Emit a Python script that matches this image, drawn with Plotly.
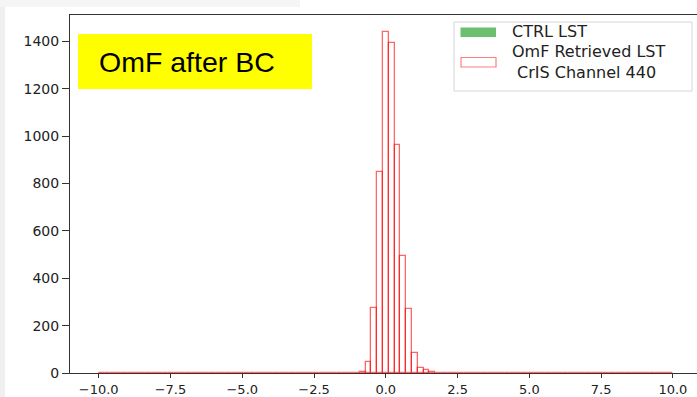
import numpy as np
import plotly.graph_objects as go

# ---- data ----
bin_edges = np.linspace(-10, 10, 100)           # 99 histogram bins
omf_first_bin = 45                              # index of first non-empty bin
omf_counts_nonzero = [5, 48, 273, 848, 1440, 1393, 965, 494, 270, 86, 22, 14, 4]
ctrl_counts = [0] * 99                          # CTRL LST: nothing visible
x_tick_vals = [-10.0, -7.5, -5.0, -2.5, 0.0, 2.5, 5.0, 7.5, 10.0]
x_tick_text = ["\u221210.0", "\u22127.5", "\u22125.0", "\u22122.5", "0.0", "2.5", "5.0", "7.5", "10.0"]
y_tick_vals = [0, 200, 400, 600, 800, 1000, 1200, 1400]
legend_labels = ["CTRL LST", "OmF Retrieved LST<br> CrIS Channel 440"]
title_text = "OmF after BC"

# ---- build series ----
centers = 0.5 * (bin_edges[:-1] + bin_edges[1:])
bw = bin_edges[1] - bin_edges[0]
omf_counts = [0] * (len(bin_edges) - 1)
for i, c in enumerate(omf_counts_nonzero):
    omf_counts[omf_first_bin + i] = c

W, H = 697, 397
L, T, B, R = 70, 15, 24, 0
PW, PH = W - L - R, H - T - B

def px(x):
    return (x - L) / PW

def py(y):
    return (H - B - y) / PH

fig = go.Figure()
fig.add_trace(go.Bar(x=centers, y=ctrl_counts, width=bw,
                     marker=dict(color="#6cbf6f", line=dict(width=0)),
                     name="CTRL LST", showlegend=False))
fig.add_trace(go.Bar(x=centers, y=omf_counts, width=bw,
                     marker=dict(color="rgba(255,255,255,0)",
                                 line=dict(color="rgba(255,0,0,0.6)", width=1.3)),
                     name="OmF Retrieved LST", showlegend=False))

shapes = []
# light grey strips of the slide background
shapes.append(dict(type="rect", xref="paper", yref="paper", layer="below",
                   x0=px(0), x1=px(5), y0=py(H), y1=py(0),
                   fillcolor="#efefef", line=dict(width=0)))
shapes.append(dict(type="rect", xref="paper", yref="paper", layer="below",
                   x0=px(0), x1=px(300), y0=py(7), y1=py(0),
                   fillcolor="#f5f5f5", line=dict(width=0)))
# yellow label box
shapes.append(dict(type="rect", xref="paper", yref="paper",
                   x0=px(78), x1=px(312), y0=py(89), y1=py(34),
                   fillcolor="#ffff00", line=dict(width=0)))
# legend box
shapes.append(dict(type="rect", xref="paper", yref="paper",
                   x0=px(454), x1=px(692), y0=py(91), y1=py(22),
                   fillcolor="rgba(255,255,255,0.85)", line=dict(color="#d6d6d6", width=1)))
# legend patches
shapes.append(dict(type="rect", xref="paper", yref="paper",
                   x0=px(460.5), x1=px(496), y0=py(37), y1=py(27.5),
                   fillcolor="#6cbf6f", line=dict(width=0)))
shapes.append(dict(type="rect", xref="paper", yref="paper",
                   x0=px(461), x1=px(496), y0=py(67), y1=py(57.5),
                   fillcolor="white", line=dict(color="rgba(255,0,0,0.5)", width=1.2)))

annotations = [
    dict(text=title_text, xref="paper", yref="paper", x=px(97), y=py(62),
         xanchor="left", yanchor="middle", showarrow=False,
         font=dict(family="Liberation Sans, Arial", size=28.5, color="black")),
    dict(text=legend_labels[0], xref="paper", yref="paper", x=px(510), y=py(32),
         xanchor="left", yanchor="middle", showarrow=False,
         font=dict(family="DejaVu Sans", size=16, color="#222")),
    dict(text=legend_labels[1], xref="paper", yref="paper", x=px(510), y=py(61.5),
         xanchor="left", yanchor="middle", showarrow=False, align="left",
         font=dict(family="DejaVu Sans", size=16, color="#222")),
]

fig.update_layout(
    width=W, height=H,
    margin=dict(l=L, r=R, t=T, b=B, pad=0, autoexpand=False),
    paper_bgcolor="white", plot_bgcolor="white",
    bargap=0, barmode="overlay",
    shapes=shapes, annotations=annotations,
    showlegend=False,
    xaxis=dict(range=[-11, 10.84], tickmode="array", tickvals=x_tick_vals, ticktext=x_tick_text,
               automargin=False,
               showgrid=False, zeroline=False, showline=True, linecolor="#333", linewidth=1,
               mirror=True, ticks="outside", ticklen=4, tickcolor="#333",
               tickfont=dict(family="DejaVu Sans", size=13, color="#222")),
    yaxis=dict(range=[0, 1512], tickmode="array", tickvals=y_tick_vals,
               automargin=False,
               showgrid=False, zeroline=False, showline=True, linecolor="#333", linewidth=1,
               ticks="outside", ticklen=7, tickcolor="#333",
               tickfont=dict(family="DejaVu Sans", size=14, color="#222")),
)

fig.write_html("out.html")
